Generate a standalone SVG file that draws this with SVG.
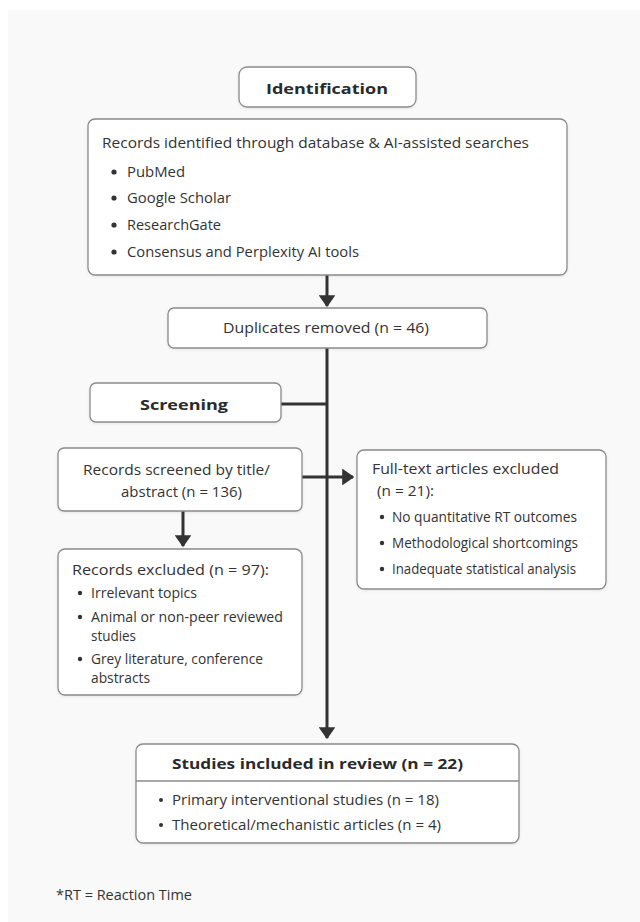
<svg xmlns="http://www.w3.org/2000/svg" width="640" height="922" viewBox="0 0 640 922">
<defs>
<style>
.box{fill:#ffffff;stroke:#8a8a8a;stroke-width:1.3;filter:url(#sh)}
.t{font-family:"Open Sans","Noto Sans","DejaVu Sans",sans-serif;fill:#333;font-size:15px}
.s{font-size:14px}
.b{font-weight:bold;fill:#2a2a2a}
.ln{stroke:#333;stroke-width:3;fill:none}
.dot{fill:#333}
</style>
<filter id="sh" x="-5%" y="-5%" width="110%" height="115%">
<feDropShadow dx="0" dy="1" stdDeviation="1.5" flood-color="#000" flood-opacity="0.08"/>
</filter>
<marker id="ah" markerWidth="4" markerHeight="5.6" refX="3.6" refY="2.8" orient="auto" markerUnits="strokeWidth">
<path d="M0,0 L4,2.8 L0,5.6 Z" fill="#333"/>
</marker>
</defs>
<rect x="0" y="0" width="640" height="922" fill="#ffffff"/>
<rect x="8" y="10" width="632" height="912" fill="#f9f9f9"/>

<g id="connectors">
<line class="ln" x1="327" y1="275" x2="327" y2="306" marker-end="url(#ah)"/>
<line class="ln" x1="327" y1="348" x2="327" y2="738" marker-end="url(#ah)"/>
<line class="ln" x1="281" y1="404" x2="327" y2="404"/>
<line class="ln" x1="302" y1="477" x2="353" y2="477" marker-end="url(#ah)"/>
<line class="ln" x1="183" y1="511" x2="183" y2="546" marker-end="url(#ah)"/>
</g>

<g id="identification">
<rect class="box" x="239" y="67" width="177" height="40" rx="8"/>
<text class="t b" x="266" y="94" font-size="19" textLength="122" lengthAdjust="spacingAndGlyphs">Identification</text>
</g>

<g id="records-identified">
<rect class="box" x="88" y="119" width="479" height="156" rx="7"/>
<text class="t" x="102" y="148" textLength="427" lengthAdjust="spacingAndGlyphs">Records identified through database &amp; AI-assisted searches</text>
<circle class="dot" cx="114" cy="172" r="2.6"/>
<text class="t" x="127" y="177" textLength="58" lengthAdjust="spacingAndGlyphs">PubMed</text>
<circle class="dot" cx="114" cy="198" r="2.6"/>
<text class="t" x="127" y="203" textLength="104" lengthAdjust="spacingAndGlyphs">Google Scholar</text>
<circle class="dot" cx="114" cy="225" r="2.6"/>
<text class="t" x="127" y="230" textLength="94" lengthAdjust="spacingAndGlyphs">ResearchGate</text>
<circle class="dot" cx="114" cy="252" r="2.6"/>
<text class="t" x="127" y="257" textLength="232" lengthAdjust="spacingAndGlyphs">Consensus and Perplexity AI tools</text>
</g>

<g id="duplicates">
<rect class="box" x="168" y="308" width="319" height="40" rx="6"/>
<text class="t" x="223" y="333" textLength="206" lengthAdjust="spacingAndGlyphs">Duplicates removed (n = 46)</text>
</g>

<g id="screening">
<rect class="box" x="90" y="383" width="191" height="39" rx="6"/>
<text class="t b" x="140" y="410" font-size="18" textLength="88" lengthAdjust="spacingAndGlyphs">Screening</text>
</g>

<g id="records-screened">
<rect class="box" x="58" y="448" width="244" height="63" rx="6"/>
<text class="t" x="83" y="475" textLength="187" lengthAdjust="spacingAndGlyphs">Records screened by title/</text>
<text class="t" x="121" y="497" textLength="121" lengthAdjust="spacingAndGlyphs">abstract (n = 136)</text>
</g>

<g id="fulltext-excluded">
<rect class="box" x="357" y="450" width="249" height="139" rx="7"/>
<text class="t" x="372" y="474" textLength="187" lengthAdjust="spacingAndGlyphs">Full-text articles excluded</text>
<text class="t" x="377" y="496" textLength="57" lengthAdjust="spacingAndGlyphs">(n = 21):</text>
<circle class="dot" cx="382" cy="517" r="2.2"/>
<text class="t s" x="392" y="522" textLength="185" lengthAdjust="spacingAndGlyphs">No quantitative RT outcomes</text>
<circle class="dot" cx="382" cy="543" r="2.2"/>
<text class="t s" x="392" y="548" textLength="186" lengthAdjust="spacingAndGlyphs">Methodological shortcomings</text>
<circle class="dot" cx="382" cy="569" r="2.2"/>
<text class="t s" x="392" y="574" textLength="184" lengthAdjust="spacingAndGlyphs">Inadequate statistical analysis</text>
</g>

<g id="records-excluded">
<rect class="box" x="58" y="549" width="244" height="146" rx="7"/>
<text class="t" x="72" y="575" textLength="197" lengthAdjust="spacingAndGlyphs">Records excluded (n = 97):</text>
<circle class="dot" cx="80" cy="593" r="2.2"/>
<text class="t s" x="91" y="598" textLength="106" lengthAdjust="spacingAndGlyphs">Irrelevant topics</text>
<circle class="dot" cx="80" cy="617" r="2.2"/>
<text class="t s" x="91" y="622" textLength="192" lengthAdjust="spacingAndGlyphs">Animal or non-peer reviewed</text>
<text class="t s" x="91" y="641" textLength="45" lengthAdjust="spacingAndGlyphs">studies</text>
<circle class="dot" cx="80" cy="659" r="2.2"/>
<text class="t s" x="91" y="664" textLength="172" lengthAdjust="spacingAndGlyphs">Grey literature, conference</text>
<text class="t s" x="91" y="683" textLength="59" lengthAdjust="spacingAndGlyphs">abstracts</text>
</g>

<g id="studies-included">
<rect class="box" x="136" y="744" width="383" height="99" rx="7"/>
<line x1="136" y1="781" x2="519" y2="781" stroke="#8a8a8a" stroke-width="1.3"/>
<text class="t b" x="172" y="769" font-size="17.5" textLength="291" lengthAdjust="spacingAndGlyphs">Studies included in review (n = 22)</text>
<circle class="dot" cx="161" cy="800" r="2"/>
<text class="t s" x="172" y="805" textLength="267" lengthAdjust="spacingAndGlyphs">Primary interventional studies (n = 18)</text>
<circle class="dot" cx="161" cy="825" r="2"/>
<text class="t s" x="172" y="830" textLength="269" lengthAdjust="spacingAndGlyphs">Theoretical/mechanistic articles (n = 4)</text>
</g>

<text class="t" x="56" y="900" font-size="14" textLength="136" lengthAdjust="spacingAndGlyphs">*RT = Reaction Time</text>
</svg>
